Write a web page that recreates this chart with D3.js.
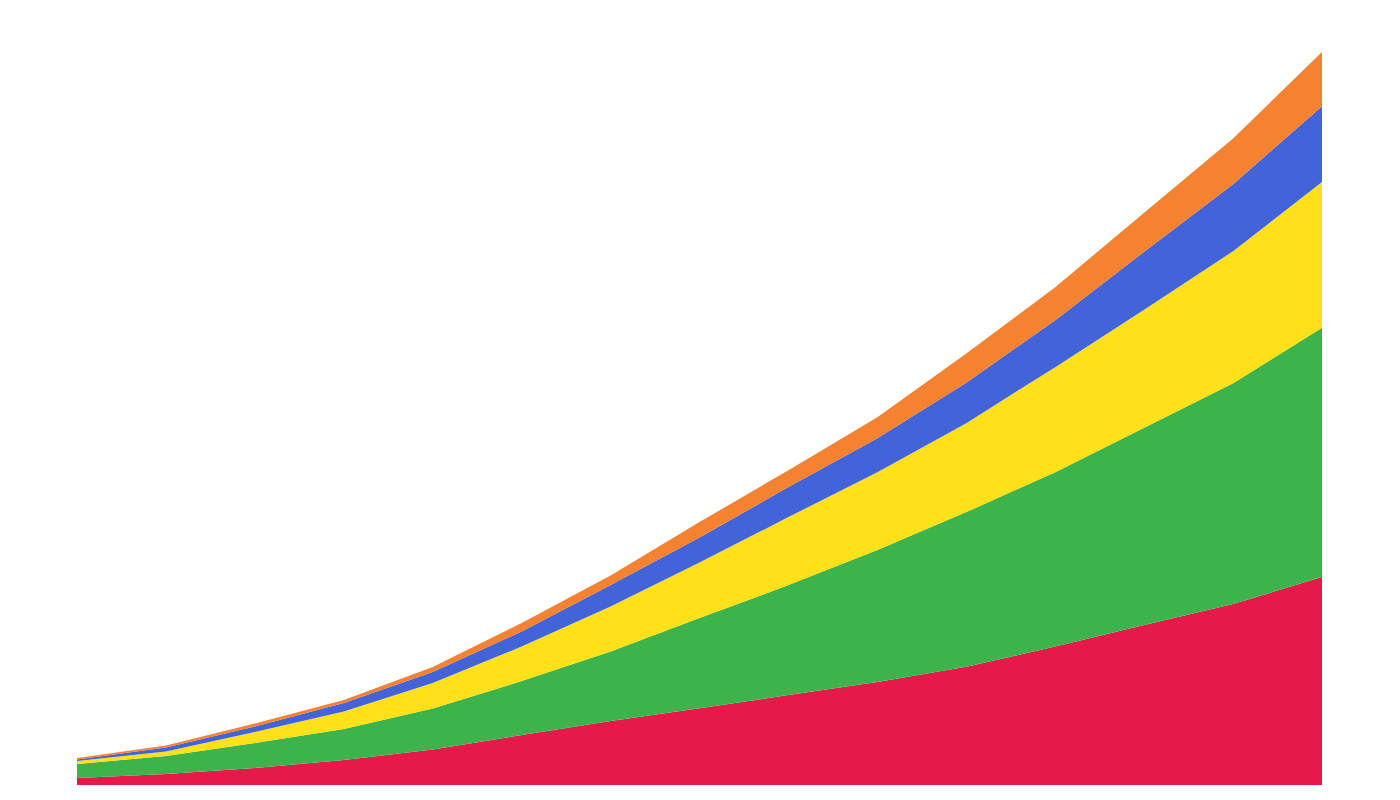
<!DOCTYPE html>
<html>
<head>
<meta charset="utf-8">
<script src="https://cdn.jsdelivr.net/npm/d3@7"></script>
<style>
  html, body { margin: 0; padding: 0; background: #ffffff; }
  svg { display: block; }
</style>
</head>
<body>
<svg id="chart" width="1400" height="800"></svg>
<script>
// Data
const periods = [0, 1, 2, 3, 4, 5, 6, 7, 8, 9, 10, 11, 12, 13, 14];
const seriesNames = ["A", "B", "C", "D", "E"];
const seriesA = [7, 11, 17, 25, 35.5, 50, 64, 76.7, 90, 103, 118.3, 138.5, 160, 181, 208];
const seriesB = [14, 18, 25, 31, 41, 54, 69.5, 90.3, 110, 132, 154.7, 174.5, 197.5, 221, 249.5];
const seriesC = [3, 4.5, 11, 17.5, 25.5, 34.5, 45, 55.5, 68, 78, 89, 105, 118, 132, 145.8];
const seriesD = [1.5, 4, 5.5, 8.5, 11, 15, 21.5, 25, 30, 34, 40.5, 47, 58, 67, 75.7];
const seriesE = [1.5, 2, 3, 3, 5, 8.5, 9.5, 15.5, 17, 21, 29.2, 33, 39, 45.7, 54.3];
const colors = ["#e6194b", "#3cb44b", "#ffe119", "#4363d8", "#f58231"];

const table = periods.map((p, i) => ({
  p: p,
  A: seriesA[i], B: seriesB[i], C: seriesC[i], D: seriesD[i], E: seriesE[i]
}));

const W = 1400, H = 800;
const margin = { top: 52, right: 78, bottom: 15, left: 77 };

const svg = d3.select("#chart");

const stacked = d3.stack().keys(seriesNames)(table);
const maxTotal = d3.max(stacked[stacked.length - 1], d => d[1]);

const x = d3.scaleLinear()
  .domain(d3.extent(periods))
  .range([margin.left, W - margin.right]);

const y = d3.scaleLinear()
  .domain([0, maxTotal])
  .range([H - margin.bottom, margin.top]);

const area = d3.area()
  .x(d => x(d.data.p))
  .y0(d => y(d[0]))
  .y1(d => y(d[1]))
  .curve(d3.curveLinear);

svg.append("g")
  .selectAll("path")
  .data(stacked)
  .join("path")
  .attr("fill", (d, i) => colors[i])
  .attr("d", area);
</script>
</body>
</html>
